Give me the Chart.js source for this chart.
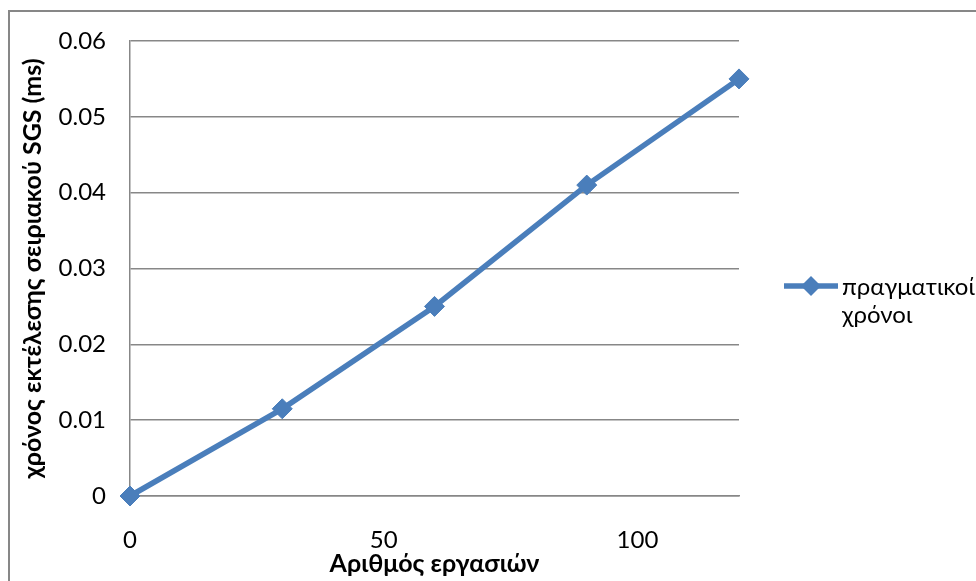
<!DOCTYPE html>
<html>
<head>
<meta charset="utf-8">
<script src="https://cdn.jsdelivr.net/npm/chart.js@4.4.1/dist/chart.umd.min.js"></script>
<style>
  html, body { margin: 0; padding: 0; background: #fff; overflow: hidden; }
  #chart { display: block; }
</style>
</head>
<body>
<canvas id="chart" width="976" height="581"></canvas>
<script>
'use strict';

// δεδομένα
const taskCounts = [0, 30, 60, 90, 120];
const runTimes   = [0, 0.0115, 0.025, 0.041, 0.055];
const xTicks     = [0, 50, 100];
const yTicks     = [0, 0.01, 0.02, 0.03, 0.04, 0.05, 0.06];
const seriesName = ['πραγματικοί', 'χρόνοι'];

const xTitle = 'Αριθμός εργασιών';
const yTitle = 'χρόνος εκτέλεσης σειριακού SGS (ms)';

const BLUE  = '#4a7ebb';
const GRID  = '#878787';
const FONT  = "Lato, 'Open Sans', sans-serif";

// πλαίσιο γύρω από το γράφημα
const frame = {
  id: 'frame',
  beforeDraw(chart) {
    const ctx = chart.ctx;
    ctx.save();
    ctx.fillStyle = '#fff';
    ctx.fillRect(0, 0, chart.width, chart.height);
    ctx.strokeStyle = GRID;
    ctx.lineWidth = 2;
    ctx.strokeRect(9, 11, chart.width + 20, chart.height + 20);
    ctx.restore();
  }
};

// υπόμνημα δεξιά (γραμμή με ρόμβο + κείμενο σε δύο γραμμές)
const sideLegend = {
  id: 'sideLegend',
  afterDraw(chart) {
    const ctx = chart.ctx;
    const ds  = chart.data.datasets[0];
    const x0  = chart.chartArea.right + 45;
    const y0  = 286;
    const r   = ds.pointRadius;
    ctx.save();
    ctx.strokeStyle = ds.borderColor;
    ctx.lineWidth = ds.borderWidth;
    ctx.beginPath();
    ctx.moveTo(x0, y0);
    ctx.lineTo(x0 + 54, y0);
    ctx.stroke();
    ctx.fillStyle = ds.pointBackgroundColor;
    ctx.beginPath();
    ctx.moveTo(x0 + 27 - r, y0);
    ctx.lineTo(x0 + 27, y0 - r);
    ctx.lineTo(x0 + 27 + r, y0);
    ctx.lineTo(x0 + 27, y0 + r);
    ctx.closePath();
    ctx.fill();
    ctx.fillStyle = '#000';
    ctx.font = '24px ' + FONT;
    ctx.textBaseline = 'middle';
    ctx.textAlign = 'left';
    ds.label.forEach((line, i) => ctx.fillText(line, x0 + 58, y0 + 1 + i * 28));
    ctx.restore();
  }
};

new Chart(document.getElementById('chart'), {
  type: 'scatter',
  data: {
    datasets: [{
      label: seriesName,
      data: taskCounts.map((x, i) => ({ x, y: runTimes[i] })),
      showLine: true,
      borderColor: BLUE,
      borderWidth: 5.5,
      backgroundColor: BLUE,
      pointStyle: 'rectRot',
      pointRadius: 10,
      pointHoverRadius: 10,
      pointBackgroundColor: BLUE,
      pointBorderColor: BLUE,
      pointBorderWidth: 1,
      tension: 0,
      clip: false
    }]
  },
  options: {
    responsive: false,
    animation: false,
    events: [],
    layout: { padding: { top: 41, right: 237, left: 0, bottom: 0 } },
    scales: {
      x: {
        type: 'linear',
        min: 0, max: 120,
        afterBuildTicks: axis => { axis.ticks = xTicks.map(v => ({ value: v })); },
        afterFit: scale => { scale.height = 85; },
        grid: { display: false, drawTicks: false },
        border: { display: true, color: GRID, width: 1.5 },
        ticks: {
          color: '#000', padding: 30,
          font: { family: FONT, size: 24 },
          callback: v => String(v)
        },
        title: {
          display: true, text: xTitle, color: '#000',
          padding: { top: 0, bottom: 2 },
          font: { family: FONT, size: 25, weight: 'bold' }
        }
      },
      y: {
        min: 0, max: 0.06,
        afterBuildTicks: axis => { axis.ticks = yTicks.map(v => ({ value: v })); },
        afterFit: scale => { scale.width = 130; },
        grid: { color: GRID, lineWidth: 1.5, drawTicks: false },
        border: { display: true, color: GRID, width: 1.5 },
        ticks: {
          color: '#000', padding: 24,
          font: { family: FONT, size: 24 },
          callback: v => String(+v.toFixed(2))
        },
        title: {
          display: true, text: yTitle, color: '#000',
          padding: { top: 18, bottom: 0 },
          font: { family: FONT, size: 25, weight: 'bold' }
        }
      }
    },
    plugins: {
      legend: { display: false },
      tooltip: { enabled: false }
    }
  },
  plugins: [frame, sideLegend]
});
</script>
</body>
</html>
